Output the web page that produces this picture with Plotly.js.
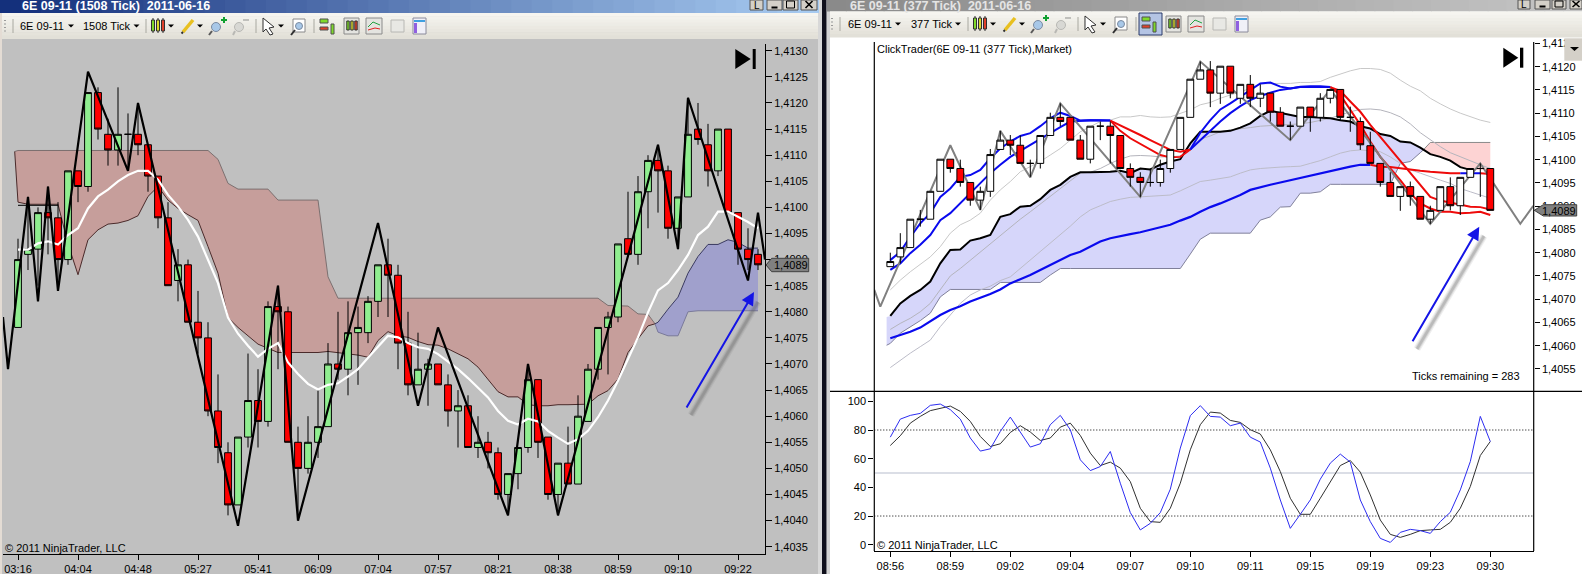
<!DOCTYPE html>
<html>
<head>
<meta charset="utf-8">
<script src="https://cdn.plot.ly/plotly-3.0.1.min.js"></script>
<style>html,body{margin:0;padding:0;overflow:hidden;background:#fff}#chart{width:1582px;height:574px}</style>
</head>
<body>
<div id="chart"></div>
<script>
// Prices are written as the four digits after "1," (4090 means 1,4090)
const leftOpen=[4077,4091,4092,4099,4098,4090,4107,4104,4122,4114,4111,4114,4114,4112,4106,4098,4086,4089,4078,4075,4061,4053,4043,4056,4063,4059,4081,4080,4055,4050,4055,4058,4070,4069,4076,4076,4082,4089,4087,4074,4066,4069,4070,4066,4061,4062,4054,4055,4053,4045,4049,4054,4067,4056,4045,4051,4047,4059,4069,4077,4079,4094,4091,4103,4109,4107,4096,4102,4115,4112,4107,4115,4099,4092,4091];
const leftHigh=[4094,4102,4100,4104,4101,4107,4107,4122,4123,4117,4123,4118,4120,4112,4106,4101,4092,4090,4084,4078,4068,4055,4056,4072,4069,4082,4085,4081,4058,4060,4065,4074,4080,4082,4081,4083,4089,4094,4089,4080,4076,4071,4070,4068,4065,4064,4060,4057,4054,4049,4054,4070,4067,4056,4051,4058,4064,4070,4077,4080,4093,4103,4106,4110,4112,4108,4102,4121,4120,4116,4115,4115,4099,4096,4092];
const leftLow=[4077,4088,4085,4091,4085,4089,4101,4103,4113,4108,4108,4107,4110,4103,4096,4085,4082,4078,4072,4060,4051,4041,4043,4054,4054,4058,4069,4055,4041,4049,4052,4058,4067,4064,4066,4074,4079,4079,4069,4064,4066,4062,4066,4058,4054,4054,4052,4050,4044,4041,4046,4053,4052,4044,4041,4047,4047,4059,4067,4068,4078,4091,4089,4096,4099,4094,4092,4102,4112,4104,4106,4099,4089,4088,4088];
const leftClose=[4090,4092,4099,4098,4090,4107,4104,4122,4115,4111,4114,4114,4112,4106,4098,4085,4089,4078,4075,4061,4054,4043,4056,4063,4059,4081,4080,4055,4050,4055,4058,4070,4069,4076,4077,4082,4089,4087,4074,4066,4069,4070,4066,4061,4062,4054,4055,4053,4045,4049,4054,4067,4055,4045,4051,4047,4060,4069,4077,4079,4093,4091,4103,4109,4107,4096,4102,4114,4113,4107,4115,4099,4092,4090,4089];
const leftAverage=[4091.9,4091.9,4093.1,4093.5,4092.9,4094.7,4096,4099.8,4102.1,4103.4,4105,4106.2,4107,4107,4105.3,4102.4,4100.2,4097.6,4094.4,4089.9,4085.5,4078.9,4075.8,4073.5,4071.4,4072.9,4074,4070.3,4068.1,4066.2,4065.1,4066,4066.3,4067.6,4069,4071.2,4073.2,4075.4,4075.1,4074,4073.2,4072.9,4071.9,4070.5,4069,4067.3,4065.5,4063.6,4061,4059.1,4058.4,4059.5,4059,4057.2,4055.9,4054.7,4055.6,4057.2,4059.8,4063,4066.8,4071,4075.1,4079.9,4084.1,4085.5,4088,4090.9,4094.7,4096.3,4099.2,4099.2,4098.2,4097.2,4096];
const leftZigX=[-1.5,-1,1,2,3,4,7,11,12,22,26,28,36,40,42,49,51,54,64,66,67,73,74,74.7];
const leftZigY=[4079,4069,4102,4082,4104,4084,4126,4107,4120,4039,4085,4040,4097,4062,4077,4041,4070,4041,4112,4092,4121,4086,4099,4090];
const leftSpanX=[-0.33,0,1,2,3,4,5,6,7,8,9,10,11,12,13,14,15,16,17,18,19,20,21,22,23,24,25,26,27,28,29,30,31,32,33,34,35,36,37,38,39,40,41,42,43,44,45,46,47,48,49,50,51,52,53,54,55,56,57,58,59,60,61,62,63,63.7];
const leftSpanTop=[4110.7,4110.9,4110.9,4110.9,4110.9,4110.9,4110.9,4110.9,4110.9,4110.9,4110.9,4110.9,4110.9,4110.9,4110.9,4110.9,4110.9,4110.9,4110.9,4110.9,4110.9,4109.2,4104.6,4103.5,4103.5,4103.5,4103.5,4101.4,4101.4,4101.4,4101.4,4101.4,4086.7,4082.6,4082.6,4082.6,4082.6,4082.6,4082.6,4082.6,4082.6,4082.6,4082.6,4082.6,4082.6,4082.6,4082.6,4082.6,4082.6,4082.6,4082.6,4082.6,4082.6,4082.6,4082.6,4082.6,4082.6,4082.6,4082.6,4082.6,4081.2,4081.1,4081.1,4079.6,4079.5,4077.7];
const leftSpanBottom=[4110.7,4101,4100.6,4100.6,4100.6,4100.6,4093,4087.1,4093.8,4095.7,4096.8,4097,4097.5,4098.4,4102.1,4104,4101.4,4099.8,4098.6,4097.5,4092.5,4087.4,4078.9,4077,4075.4,4073.8,4073,4072.2,4072.2,4072.2,4072.2,4072.2,4072.4,4072.2,4071.9,4071.7,4071.3,4074.5,4076.2,4075.4,4075.1,4074.3,4073.7,4073.6,4072.9,4071.9,4071,4069.4,4067.1,4064.7,4063.7,4063.7,4062.2,4062,4062,4062.2,4062.2,4062.2,4062.3,4063.9,4064.9,4067.1,4072.2,4074.8,4077.3,4077.7];
const leftBlueX=[63.7,64,65,66,67,68,69,70,71,72,73,74];
const leftBlueTop=[4077.7,4078,4080.5,4082.8,4087.4,4090.6,4092.9,4092.9,4093.8,4093.3,4092.2,4092.2];
const leftBlueBottom=[4077.7,4076.1,4075.4,4075.4,4080,4080.2,4080.2,4080.2,4080.2,4080.2,4080.2,4080.2];
const leftLevelX=[0,4], leftLevelY=[4100.4,4100.4];
const leftPriceTicks=[4130,4125,4120,4115,4110,4105,4100,4095,4090,4085,4080,4075,4070,4065,4060,4055,4050,4045,4040,4035];
const leftPriceLabels=['1,4130','1,4125','1,4120','1,4115','1,4110','1,4105','1,4100','1,4095','1,4090','1,4085','1,4080','1,4075','1,4070','1,4065','1,4060','1,4055','1,4050','1,4045','1,4040','1,4035'];
const leftTimeTicks=[0,6,12,18,24,30,36,42,48,54,60,66,72];
const leftTimeLabels=['03:16','04:04','04:48','05:27','05:41','06:09','07:04','07:57','08:21','08:38','08:59','09:10','09:22'];

const rightOpen=[4077,4079.1,4081.1,4087.2,4087.2,4093.2,4100.1,4098.1,4095.1,4091.3,4093.2,4102.2,4104.2,4103.1,4099.2,4099.2,4105.2,4109.1,4109.1,4104.2,4100.1,4107.2,4107.2,4105.2,4098.1,4096.2,4095.1,4095.1,4098.1,4102.2,4109.1,4117.3,4119.3,4114.3,4120.1,4113.2,4116.2,4113.2,4114.3,4110.2,4107.2,4107.2,4111.3,4109.1,4113.2,4115.1,4109.1,4108.2,4103,4099.2,4095.1,4092.1,4094.2,4092.1,4087.2,4089.1,4094.2,4090.1,4096.2,4098.1,4098.1];
const rightHigh=[4080,4084.2,4087.2,4089.2,4093.2,4100.1,4100.1,4100,4095.1,4094.2,4102.3,4106.2,4105.3,4105.2,4100,4105.2,4110.1,4112.1,4109.1,4105.3,4107.2,4108.2,4108.2,4105.2,4099.2,4097.3,4098.1,4100,4102.2,4109.1,4117.3,4121.1,4121.2,4120.1,4120.1,4116.2,4118.2,4116.2,4114.3,4111.3,4108.2,4111.3,4111.3,4114.3,4115.1,4115.1,4111.4,4109.1,4106,4099.2,4097.3,4094.2,4095.3,4092.1,4090.1,4094.2,4096.2,4096.2,4098.1,4099.2,4098.1];
const rightLow=[4077,4077.7,4081.1,4085.6,4087.2,4093.2,4097.2,4094.2,4090.1,4089.2,4092,4102.2,4101,4099.2,4096.3,4098.1,4105.2,4107.2,4104.2,4100.1,4099.2,4104.2,4099.2,4098.1,4094.2,4092,4094.2,4094.2,4097.2,4102.2,4109.1,4117.3,4111.3,4112,4113.2,4112,4111.3,4111.3,4108.2,4107.2,4104.2,4107.2,4106,4108.2,4112.1,4108.4,4106,4102.1,4099.2,4094.2,4092.1,4089,4090.1,4087.2,4086.2,4089.1,4089.1,4088.1,4096.2,4092,4089.1];
const rightClose=[4078.1,4081.1,4087.2,4087.2,4093.2,4100.1,4098.1,4095.1,4091.3,4093.2,4101.1,4104.2,4103.1,4099.2,4099.2,4105.2,4109.1,4108.2,4104.2,4100.1,4107.2,4107.2,4105.2,4098.1,4096.2,4095.1,4095.1,4098.1,4102.2,4109.1,4117.3,4119.3,4114.3,4120.1,4114.3,4116.2,4113.2,4114.3,4110.2,4107.2,4107.2,4111.3,4109.1,4113.2,4115.1,4109.1,4109.1,4103.2,4099.2,4095.1,4092.1,4094.2,4092.1,4087.2,4089.1,4094.2,4090.1,4096.2,4098.1,4098.1,4089.1];
const fastAverage=[4078.4,4080.2,4083.4,4086.3,4088.5,4092,4093.8,4096.3,4096.7,4097.8,4100.3,4102.4,4103.9,4105.1,4105.7,4107.2,4108.9,4110.1,4109.4,4108.4,4108.5,4108.5,4108.4,4106.2,4104.6,4103.4,4102.1,4101,4100.5,4100.6,4102.2,4105.8,4108.5,4110.8,4112.1,4113.5,4115,4116.4,4116.6,4115.7,4115.3,4115.7,4115.8,4115.8,4115.6,4113.9,4110.7,4107.5,4103.9,4100.6,4098.1,4095.6,4092.8,4090.6,4089.5,4088.8,4088.8,4088.5,4088.6,4088.8,4088.1];
const slowAverage=[4076.3,4077.7,4079.9,4081.7,4083.8,4087,4088.5,4090.6,4092.8,4094.9,4097.1,4098.9,4100.6,4101.9,4103.2,4104.4,4105.7,4107,4108.2,4108.4,4108.5,4108.5,4108.4,4107.4,4106.4,4105.3,4104.2,4103.2,4102.1,4101.7,4102.2,4104.2,4106.4,4108.2,4110,4111.5,4112.8,4113.7,4114.4,4115,4115.3,4115.6,4115.6,4115.6,4115.6,4114.8,4112.5,4110.3,4107.5,4104.9,4102.4,4099.9,4097.1,4094.6,4092,4091.2,4090.8,4090.3,4089.9,4089.8,4089.3];
const longAverage=[4061.6,4062.3,4063,4063.9,4065.2,4066.6,4067.7,4068.5,4069.5,4070.3,4071.1,4072.1,4073.4,4074.3,4075.2,4076.3,4077.4,4078.4,4079.5,4080.2,4081.3,4082.4,4083.1,4083.6,4084,4084.4,4084.9,4085.4,4086,4086.9,4087.7,4088.8,4089.8,4090.6,4091.5,4092.4,4093.5,4094.1,4094.6,4095.1,4095.6,4096,4096.6,4097.1,4097.6,4098.1,4098.5,4098.9,4098.9,4098.5,4098.4,4098.1,4097.9,4097.6,4097.4,4097.2,4097.1,4097.1,4097.1,4097.1,4096.9];
const blackAverage=[4066.4,4069.1,4070.7,4072,4073.8,4077.7,4080.6,4080.7,4082.6,4083.1,4083.8,4087.7,4088.3,4089.9,4090.1,4091.5,4093.5,4094.6,4096.3,4097.3,4097.3,4097.3,4097.4,4097.6,4097.1,4098.1,4097.9,4098.9,4099.6,4100.1,4103.5,4106,4106,4106,4106.2,4106.9,4107.8,4109.4,4110.5,4110.1,4109.6,4109.2,4109.2,4109.1,4108.9,4108.5,4108.2,4107.2,4106.7,4105.5,4105.1,4103.9,4103.7,4102.6,4101.2,4100.6,4099.8,4098.4,4097.8];
const bandOuter=[4072,4074.1,4075.9,4077.5,4079.1,4081.3,4084.2,4086,4087,4088.5,4091.3,4093.5,4095.3,4097.4,4098.5,4099.6,4101,4102.4,4104.2,4106,4107.1,4108.2,4108.5,4109.2,4109.2,4109.5,4109.2,4109.1,4109.2,4110,4110.7,4111.8,4112.3,4113.2,4113.9,4114.6,4115.3,4116.3,4116.4,4116.4,4116.4,4116.6,4116.6,4116.8,4117.7,4118.4,4119.1,4119.6,4119.6,4119.4,4118.6,4117.1,4115.8,4114.8,4113.2,4112,4110.9,4110,4109.2,4108.5,4108];
const bandMiddle=[4063.5,4064.8,4065.9,4067.3,4069.1,4072,4075,4076.6,4078.4,4080.2,4082,4083.8,4085.6,4087.2,4088.8,4090.5,4092,4093.8,4095.6,4097.1,4097.3,4098.1,4099.2,4100.1,4100.8,4100.9,4100.8,4100.6,4100.6,4100.8,4102.1,4104.4,4105.1,4106,4106.4,4106.6,4106.9,4107.2,4107.3,4107.4,4107.5,4107.7,4108,4108.4,4108.9,4109.6,4110.3,4110.8,4110.9,4110.7,4110.1,4109.2,4107.7,4105.8,4104.2,4102.8,4101.5,4100.6,4099.8,4098.9,4098.1];
const bandLower=[4055.3,4056.9,4058.4,4059.8,4061.2,4064.1,4066.6,4069.1,4070.9,4072,4072.8,4074,4074.8,4076.6,4078.4,4080.2,4082,4083.8,4085.7,4087.7,4089.2,4090.1,4091,4091.5,4091.9,4092,4092.1,4092.2,4092.4,4093.3,4094.3,4095.3,4095.6,4096,4096.3,4097.1,4097.8,4098.1,4098.3,4098.4,4098.5,4098.6,4099.2,4099.8,4100.6,4101.4,4101.9,4102.1,4101.9,4101.7,4100.6,4099.2,4097.8,4097.1,4096.3,4095.6,4094.9,4093.8,4093.1,4092.4,4091.7];
const rightCloudX=[-0.37,0,1,2,3,4,5,6,7,8,9,10,11,12,13,14,15,16,17,18,19,20,21,22,23,24,25,26,27,28,29,30,31,32,33,34,35,36,37,38,39,40,41,42,43,44,45,46,47,48,49,50,51,52,53,53.3];
const rightCloudTop=[4066.2,4066.4,4069.1,4070.7,4072,4073.8,4077.7,4080.6,4080.7,4082.6,4083.1,4083.8,4087.7,4088.3,4089.9,4090.1,4091.5,4093.5,4094.6,4096.3,4097.3,4097.3,4097.3,4097.4,4097.6,4097.1,4098.1,4097.9,4098.9,4099.6,4100.1,4103.5,4106,4106,4106,4106.2,4106.9,4107.8,4109.4,4110.5,4110.1,4109.6,4109.2,4109.2,4109.1,4108.9,4108.5,4108.2,4107.2,4106.7,4105.5,4105.1,4103.9,4103.7,4102.6,4102.1];
const rightCloudBottom=[4060.1,4060.5,4062.7,4064.1,4065.4,4067,4070.5,4072.1,4072.1,4072.1,4072.1,4072.1,4073.6,4073.6,4073.6,4073.6,4073.6,4075.2,4076.6,4076.6,4076.6,4076.6,4076.6,4076.6,4076.6,4076.6,4076.6,4076.6,4076.6,4076.6,4076.6,4079.7,4082.9,4084.2,4084.2,4084.2,4084.2,4084.2,4087,4087.7,4089.8,4089.9,4092.8,4092.8,4093.1,4094.7,4094.7,4094.7,4094.7,4094.7,4094.7,4094.7,4099.2,4099.6,4101.5,4102.1];
const pinkX=[53.3,54,55,56,57,58,59,60];
const pinkTop=[4102.1,4103.7,4103.7,4103.7,4103.7,4103.7,4103.7,4103.7];
const pinkBottom=[4102.1,4101.2,4100.6,4099.8,4098.4,4097.8,4097.8,4097.8];
const rightZigX=[-1.6,-1,6,9,11,14,17,25,31,40,44,54,59,63,64.3];
const rightZigY=[4072,4068.4,4103.1,4089.2,4106.2,4096.2,4112.1,4092,4121.1,4104.2,4115.1,4086.2,4099.2,4086.2,4090.1];
const rightPriceTicks=[4125,4120,4115,4110,4105,4100,4095,4090,4085,4080,4075,4070,4065,4060,4055];
const rightPriceLabels=['1,4125','1,4120','1,4115','1,4110','1,4105','1,4100','1,4095','1,4090','1,4085','1,4080','1,4075','1,4070','1,4065','1,4060','1,4055'];
const rightTimeTicks=[0,6,12,18,24,30,36,42,48,54,60];
const rightTimeLabels=['08:56','08:59','09:02','09:04','09:07','09:10','09:11','09:15','09:19','09:23','09:30'];
const stochBlack=[69.2,76,84.8,89.5,93.5,95.3,96.7,93,86,75.5,68.5,70.4,78.3,83,78.6,72.7,74.4,82,84.8,76.2,63.9,55.2,57.6,53.4,44,25.4,16.1,15.6,25.4,42.9,66.2,83.7,92.5,91.8,86.7,85.3,80.2,77.2,66.2,51,32.4,21.2,21.2,32.4,44,55.2,58.7,50.6,34.7,17.2,7.2,5.1,7.2,9.8,10.3,10.7,15.6,25.4,40.6,62.2,72];
const stochBlue=[75,87.6,90.2,91.6,97.2,98.1,94.2,87.6,74.4,65.3,66.9,79,89,79,68.1,70.4,83.7,90.2,80.2,59.2,51.7,54.5,65,42.9,22.4,10.3,14.9,22.4,38.7,67.4,90,97,89.5,89,83,84.8,75,71.6,53.4,31.2,11.4,21.2,31.2,45.7,56.9,63.2,57.6,31.2,16.1,4.4,1.6,8.6,10.7,9.8,7.9,16.1,22.6,38.2,58,89.5,72];
const stochTicks=[100,80,60,40,20,0];
const stochLabels=['100','80','60','40','20','0'];

const W=1582,H=574,FONT='"Liberation Sans",Arial,sans-serif';
const price=v=>1+v/10000;
const prices=a=>a.map(price);
const idx=a=>a.map((_,i)=>i);
const px=x=>x/W, py=y=>1-y/H;

const LXR=[-1.5,74.7], LYR=[price(4033.6),price(4131.3)];
const RXR=[-1.6,64.34], RYR=[price(4050.2),price(4125.3)];
const SYR=[-4.4,107];
const LD=[px(3),px(765)], LV=[py(554),py(44)];
const RD=[px(874.3),px(1533.7)], RV=[py(391.3),py(42)], SV=[py(551),py(391.3)];

function line(x,y,color,width,xa,ya,dash){return {type:'scatter',mode:'lines',x:x,y:y,xaxis:xa,yaxis:ya,hoverinfo:'skip',showlegend:false,line:{color:color,width:width,dash:dash||'solid',shape:'linear'}};}
function area(xT,yT,xB,yB,lineT,lineB,fill,xa,ya){
  return [line(xT,yT,lineT,1,xa,ya),Object.assign(line(xB,yB,lineB,1,xa,ya),{fill:'tonexty',fillcolor:fill})];
}
function candles(o,h,l,c,up,down,xa,ya){
  return {type:'candlestick',x:idx(o),open:prices(o),high:prices(h),low:prices(l),close:prices(c),xaxis:xa,yaxis:ya,whiskerwidth:0,hoverinfo:'skip',showlegend:false,
    increasing:{fillcolor:up,line:{color:'#000',width:1}},decreasing:{fillcolor:down,line:{color:'#000',width:1}}};
}
function segment(a,from,to,color,width,xa,ya){
  const xs=[],ys=[];for(let i=from;i<=to;i++){xs.push(i);ys.push(price(a[i]));}
  return line(xs,ys,color,width,xa,ya);
}

const traces=[
  // left chart
  ...area(leftSpanX,prices(leftSpanTop),leftSpanX,prices(leftSpanBottom),'#7c7070','#4a2a2a','#c69e9b','x','y'),
  ...area(leftBlueX,prices(leftBlueTop),leftBlueX,prices(leftBlueBottom),'#3a3a60','#7a7a9a','#a0a0cc','x','y'),
  candles(leftOpen,leftHigh,leftLow,leftClose,'#90ee90','#ff0000','x4','y4'),
  line(leftLevelX,prices(leftLevelY),'#000',1,'x4','y4'),
  line(idx(leftAverage),prices(leftAverage),'#ffffff',2.2,'x4','y4'),
  line(leftZigX,prices(leftZigY),'#000000',2.2,'x4','y4'),
  // right chart, below the candles
  ...area(rightCloudX,prices(rightCloudTop),rightCloudX,prices(rightCloudBottom),'rgba(0,0,0,0)','#80809a','#d6d6fa','x2','y2'),
  ...area(pinkX,prices(pinkTop),pinkX,prices(pinkBottom),'#8a8a8a','rgba(0,0,0,0)','#fdd3d3','x2','y2'),
  line(idx(bandOuter),prices(bandOuter),'#c8c8c8',1,'x2','y2'),
  line(idx(bandMiddle),prices(bandMiddle),'#b4b4bc',1,'x2','y2'),
  line(idx(bandLower),prices(bandLower),'#bcbcc8',1,'x2','y2'),
  line(idx(blackAverage),prices(blackAverage),'#000000',2,'x2','y2'),
  segment(longAverage,0,48,'#0a0aee',2.2,'x2','y2'),
  segment(longAverage,48,57,'#ee0a0a',2,'x2','y2'),
  segment(longAverage,57,59,'#0a0aee',2,'x2','y2'),
  segment(longAverage,59,60,'#ee0a0a',2,'x2','y2'),
  segment(slowAverage,0,22,'#0a0aee',2,'x2','y2'),
  segment(slowAverage,22,30,'#ee0a0a',2,'x2','y2'),
  segment(slowAverage,30,44,'#0a0aee',2,'x2','y2'),
  segment(slowAverage,44,60,'#ee0a0a',2,'x2','y2'),
  segment(fastAverage,0,22,'#0a0aee',2,'x2','y2'),
  segment(fastAverage,22,30,'#ee0a0a',2,'x2','y2'),
  segment(fastAverage,30,44,'#0a0aee',2,'x2','y2'),
  segment(fastAverage,44,60,'#ee0a0a',2,'x2','y2'),
  line(rightZigX,prices(rightZigY),'#808080',2,'x2','y2'),
  candles(rightOpen,rightHigh,rightLow,rightClose,'#ffffff','#ff0000','x5','y5'),
  // stochastics
  line(RXR,[80,80],'#000',1,'x3','y3','1px,2px'),
  line(RXR,[20,20],'#000',1,'x3','y3','1px,2px'),
  line(RXR,[50,50],'#b8bece',1.2,'x3','y3'),
  line(idx(stochBlack),stochBlack,'#303030',1,'x3','y3'),
  line(idx(stochBlue),stochBlue,'#2c2cf0',1,'x3','y3')
];

const shapes=[];
function rect(x0,y0,x1,y1,fill,stroke,layer,w){shapes.push({type:'rect',xref:'paper',yref:'paper',x0:px(x0),x1:px(x1),y0:py(y0),y1:py(y1),fillcolor:fill,line:{color:stroke||'rgba(0,0,0,0)',width:stroke?(w||1):0},layer:layer||'above'});}
function seg(x0,y0,x1,y1,color,w,layer){shapes.push({type:'line',xref:'paper',yref:'paper',x0:px(x0),x1:px(x1),y0:py(y0),y1:py(y1),line:{color:color,width:w||1},layer:layer||'above'});}
function poly(pts,fill,stroke){
  const d=pts.map((p,i)=>(i?'L':'M')+px(p[0]).toFixed(5)+','+py(p[1]).toFixed(5)).join(' ')+' Z';
  shapes.push({type:'path',xref:'paper',yref:'paper',path:d,fillcolor:fill,line:{color:stroke||'rgba(0,0,0,0)',width:stroke?1:0},layer:'above'});
}
function circle(cx,cy,r,fill,stroke){shapes.push({type:'circle',xref:'paper',yref:'paper',x0:px(cx-r),x1:px(cx+r),y0:py(cy+r),y1:py(cy-r),fillcolor:fill,line:{color:stroke||'rgba(0,0,0,0)',width:stroke?1:0},layer:'above'});}
function hexMix(a,b,t){const p=s=>[1,3,5].map(i=>parseInt(s.substr(i,2),16));const A=p(a),B=p(b);return 'rgb('+A.map((v,i)=>Math.round(v+(B[i]-v)*t)).join(',')+')';}

// backgrounds
rect(0,0,818,574,'#c0c0c0',null,'below');
rect(0,0,2,574,'#e4dcd4',null,'below');
rect(818,0,1582,574,'#ffffff',null,'below');
rect(818,0,822,574,'#d8d8d8',null,'below');
rect(822,0,826.7,574,'#10101c',null,'below');
rect(826.7,0,830,574,'#d4d4d4',null,'below');
// title bars
for(let i=0;i<40;i++){
  rect(i*818/40,0,(i+1)*818/40+1,13,hexMix('#14307c','#a6caf0',i/39),null,'below');
  rect(827+i*755/40,0,827+(i+1)*755/40+1,11.5,hexMix('#8a8a8a','#c4c4c4',i/39),null,'below');
}
// toolbars
for(let i=0;i<8;i++){
  const c=hexMix('#f6f5f0','#e2e0d8',i/7);
  rect(2,13+i*3.2,818,13+(i+1)*3.2+0.5,c,null,'below');
  rect(830,11.5+i*3.2,1582,11.5+(i+1)*3.2+0.5,c,null,'below');
}
// window buttons
function btn(x0,x1,y1,kind){
  rect(x0,0,x1,y1,'#d4d0c8','#555');
  const c=(x0+x1)/2;
  if(kind==='min')seg(c-3,y1-2.5,c+3,y1-2.5,'#000',2);
  if(kind==='max')rect(c-4,1,c+4,y1-2,'rgba(0,0,0,0)','#000');
  if(kind==='close'){seg(c-3.5,1,c+3.5,y1-2,'#000',1.6);seg(c+3.5,1,c-3.5,y1-2,'#000',1.6);}
}
btn(750,763,10,'L');btn(767,782,10,'min');btn(783,798,10,'max');btn(801,817,10,'close');
btn(1518,1530,9,'L');btn(1535,1550,9,'min');btn(1552,1566,9,'max');btn(1570,1582,9,'close');

// toolbar icons
function caret(x,y){poly([[x-3,y-1.5],[x+3,y-1.5],[x,y+1.5]],'#000');}
function toolbar(dx,y,caret1,caret2,sep2){
  for(let k=0;k<4;k++)rect(dx+4,y-6+k*3.5,dx+6,y-5+k*3.5,'#9a9a9a');
  seg(dx+13,y-7,dx+13,y+7,'#a8a8a0',1);
  caret(caret1,y);caret(caret2,y);seg(sep2,y-7,sep2,y+7,'#a8a8a0',1);
}
function iconSet(o,y){
  // candle style
  [['#7fd92a',153],['#d9d92a',158],['#e0402a',163]].forEach(c=>{seg(o+c[1],y-8,o+c[1],y+7,'#303030');rect(o+c[1]-1.5,y-6,o+c[1]+1.5,y+5,c[0],'#303030');});
  caret(o+171,y);
  // pencil
  seg(o+183,y+6,o+193,y-6,'#e8c020',3.5);seg(o+181.5,y+7.5,o+183,y+6,'#303030',2);
  caret(o+200,y);
  // zoom in
  circle(o+216,y+1,4.5,'#a8c8e8','#7a8aa0');seg(o+212,y+5,o+209,y+9,'#5a5a5a',2);seg(o+224,y-9,o+224,y-3,'#10a030',2);seg(o+221,y-6,o+227,y-6,'#10a030',2);
  // zoom out (disabled)
  circle(o+239,y+1,4.5,'#d8d8d4','#b8b8b4');seg(o+235,y+5,o+233,y+9,'#b8b8b4',2);seg(o+243,y-6,o+249,y-6,'#c0c0bc',2);
  seg(o+256,y-7,o+256,y+7,'#a8a8a0',1);
  // cursor
  poly([[o+263,y-8],[o+274,y+1],[o+269,y+2],[o+273,y+8],[o+270,y+9],[o+266,y+3],[o+263,y+6]],'#ffffff','#303030');
  caret(o+281,y);
  // magnifier box
  rect(o+293,y-7,o+305,y+6,'#ffffff','#8a8a8a');circle(o+299,y,3.5,'#a8c8e8','#7a8aa0');seg(o+295,y+4,o+291,y+9,'#303030',2);
  seg(o+314,y-7,o+314,y+7,'#a8a8a0',1);
  // bars
  rect(o+320,y-7,o+328,y-3,'#7fd92a','#505050');rect(o+320,y+1,o+328,y+4,'#e0402a','#505050');rect(o+331,y-2,o+334,y+8,'#7fd92a','#505050');
  // candles boxed
  rect(o+344,y-8,o+359,y+8,'#e4e4e0','#8a8a8a');
  [['#7fd92a',348],['#d9d92a',352],['#e0402a',356]].forEach(c=>{rect(o+c[1]-1.2,y-5,o+c[1]+1.2,y+4,c[0],'#303030');});
  // lines
  rect(o+366,y-8,o+382,y+8,'#e4e4e0','#8a8a8a');
  seg(o+368,y+1,o+373,y-4,'#20a040',1);seg(o+373,y-4,o+380,y-1,'#20a040',1);seg(o+368,y+4,o+375,y+2,'#e02020',1);seg(o+375,y+2,o+380,y+3,'#e02020',1);
  // dollar
  rect(o+391,y-6,o+404,y+6,'#e8e8e4','#b8b8b4');
  // table
  rect(o+413,y-8,o+426,y+8,'#f0f0f8','#8a8a9a');rect(o+414,y-6,o+425,y-4,'#40a0e0');rect(o+414,y-3,o+417,y+7,'#9060e0');
}
toolbar(0,26,71,136.5,146);
rect(1139,13,1162,35,'#b4c4e4','#2a3a6a');
iconSet(0,26);
toolbar(827,24,898,958,968);
iconSet(822,24);

// ">|" markers
poly([[735.3,49],[750.7,59],[735.3,69]],'#000');rect(752.7,49,755.7,69,'#000');
poly([[1503.3,47.7],[1518.3,57.7],[1503.3,67.7]],'#000');rect(1520,47.7,1523.3,67.7,'#000');
// arrow shadows
[[7,0.10],[4.5,0.16],[2.5,0.22]].forEach(s=>{
  const c='rgba(90,90,90,'+s[1]+')';
  seg(691,415,758,302,c,s[0]);
  seg(1417,349,1484,236,c,s[0]);
});
// price tags
poly([[766,265],[771.7,258.3],[808.7,258.3],[808.7,271.7],[771.7,271.7]],'#808080','#404040');
poly([[1534.3,210.3],[1543.3,204.7],[1576.7,204.7],[1576.7,216],[1543.3,216]],'#808080','#404040');
// right frame
seg(830,391.3,1582,391.3,'#000',1.2);
seg(1533.7,42,1533.7,551,'#000',1.2);
seg(874.3,42,874.3,551,'#000',1.2);
// combo button
rect(1564.3,38.3,1582,60.7,'#d4d0c8');poly([[1570,47],[1579,47],[1574.5,51]],'#000');

function note(x,y,text,o){o=o||{};return {xref:'paper',yref:'paper',x:px(x),y:py(y),text:text,showarrow:false,xanchor:o.a||'left',yanchor:'middle',borderpad:0,borderwidth:0,font:{family:FONT,size:o.s||11,color:o.c||'#000',weight:o.w||'normal'}};}
function arrow(tx,ty,sx,sy,color,width,head){return {xref:'paper',yref:'paper',x:px(tx),y:py(ty),ax:sx-tx,ay:sy-ty,axref:'pixel',ayref:'pixel',text:'',showarrow:true,arrowhead:head,arrowsize:1.3,arrowwidth:width,arrowcolor:color,standoff:0,startstandoff:0};}

const annotations=[
  note(22,6.5,'6E 09-11 (1508 Tick)  2011-06-16',{s:12.5,c:'#ffffff',w:'bold'}),
  note(850,6,'6E 09-11 (377 Tick)  2011-06-16',{s:12.5,c:'#e4e4e4',w:'bold'}),
  note(19.5,26,'6E 09-11',{s:11}),note(83,26,'1508 Tick',{s:11}),
  note(847.5,24,'6E 09-11',{s:11}),note(911,24,'377 Tick',{s:11}),
  note(756.5,5,'L',{a:'center',s:10}),note(1524,4.5,'L',{a:'center',s:10}),
  note(5,548,'© 2011 NinjaTrader, LLC',{s:11}),
  note(877,545,'© 2011 NinjaTrader, LLC',{s:11}),
  note(877,49,'ClickTrader(6E 09-11 (377 Tick),Market)',{s:11}),
  note(1411.5,376,'Ticks remaining = 283',{s:11}),
  note(774,265,'1,4089',{s:11}),
  note(1542,210.5,'1,4089',{s:11}),
  arrow(754,292,685.7,409,'#1414e6',2,2),
  arrow(1479.3,226.7,1411.7,342.7,'#1414e6',2,2)
];

const tickFont={family:FONT,size:11,color:'#000'};
const layout={
  width:W,height:H,margin:{l:0,r:0,t:0,b:0,pad:0},autosize:false,showlegend:false,
  paper_bgcolor:'#ffffff',plot_bgcolor:'rgba(0,0,0,0)',font:{family:FONT,size:11,color:'#000'},hovermode:false,
  boxgap:0.32,boxgroupgap:0,
  xaxis:{domain:LD,range:LXR,type:'linear',anchor:'y',showgrid:false,zeroline:false,showline:true,linecolor:'#000',linewidth:1,ticks:'outside',ticklen:5,tickcolor:'#000',tickmode:'array',tickvals:leftTimeTicks,ticktext:leftTimeLabels,tickfont:tickFont,tickangle:0,rangeslider:{visible:false},fixedrange:true},
  yaxis:{domain:LV,range:LYR,type:'linear',anchor:'x',side:'right',showgrid:false,zeroline:false,showline:true,linecolor:'#000',linewidth:1,ticks:'outside',ticklen:6,tickcolor:'#000',tickmode:'array',tickvals:prices(leftPriceTicks),ticktext:leftPriceLabels,tickfont:tickFont,fixedrange:true},
  xaxis4:{domain:LD,range:LXR,type:'linear',anchor:'y4',overlaying:'x',visible:false,rangeslider:{visible:false},fixedrange:true},
  yaxis4:{domain:LV,range:LYR,type:'linear',anchor:'x4',overlaying:'y',visible:false,fixedrange:true},
  xaxis2:{domain:RD,range:RXR,type:'linear',anchor:'y2',showgrid:false,zeroline:false,showline:false,ticks:'',showticklabels:false,rangeslider:{visible:false},fixedrange:true},
  yaxis2:{domain:RV,range:RYR,type:'linear',anchor:'x2',side:'right',showgrid:false,zeroline:false,showline:false,ticks:'outside',ticklen:5,tickcolor:'#000',tickmode:'array',tickvals:prices(rightPriceTicks),ticktext:rightPriceLabels,tickfont:tickFont,fixedrange:true},
  xaxis5:{domain:RD,range:RXR,type:'linear',anchor:'y5',overlaying:'x2',visible:false,rangeslider:{visible:false},fixedrange:true},
  yaxis5:{domain:RV,range:RYR,type:'linear',anchor:'x5',overlaying:'y2',visible:false,fixedrange:true},
  xaxis3:{domain:RD,range:RXR,type:'linear',anchor:'y3',showgrid:false,zeroline:false,showline:true,linecolor:'#000',linewidth:1,ticks:'outside',ticklen:5,tickcolor:'#000',tickmode:'array',tickvals:rightTimeTicks,ticktext:rightTimeLabels,tickfont:tickFont,tickangle:0,fixedrange:true},
  yaxis3:{domain:SV,range:SYR,type:'linear',anchor:'x3',side:'left',showgrid:false,zeroline:false,showline:false,ticks:'outside',ticklen:5,tickcolor:'#000',tickmode:'array',tickvals:stochTicks,ticktext:stochLabels,tickfont:tickFont,fixedrange:true},
  shapes:shapes,annotations:annotations
};
Plotly.newPlot('chart',traces,layout,{staticPlot:true,displayModeBar:false,responsive:false});
</script>
</body>
</html>
